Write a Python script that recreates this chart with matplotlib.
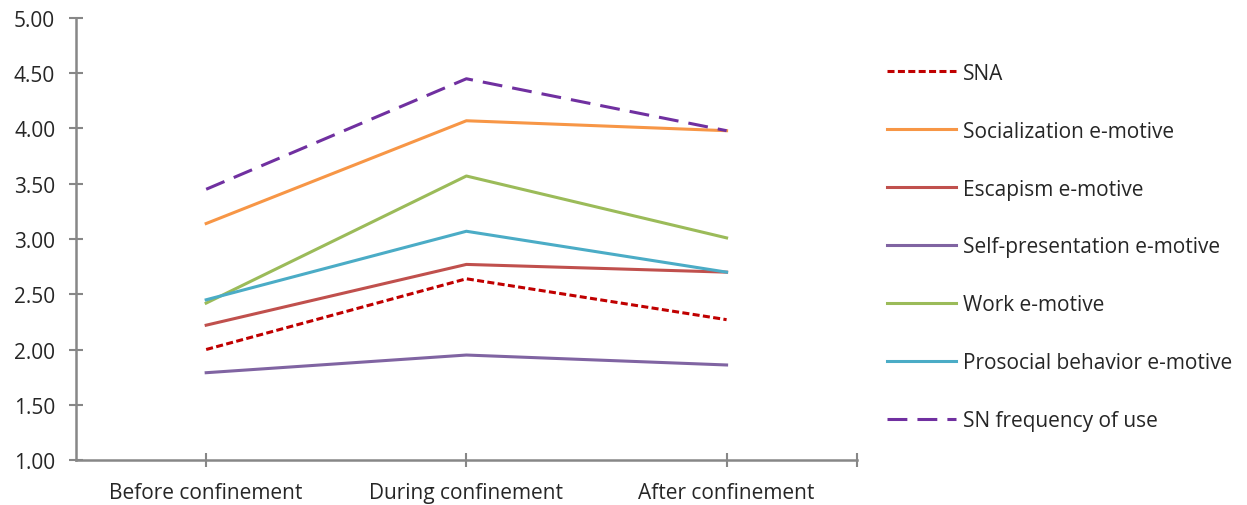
import matplotlib
matplotlib.use("Agg")
import matplotlib.pyplot as plt

# data
periods = ["Before confinement", "During confinement", "After confinement"]
sna = [2.00, 2.64, 2.27]
socialization = [3.14, 4.07, 3.98]
escapism = [2.22, 2.77, 2.70]
self_presentation = [1.79, 1.95, 1.86]
work = [2.42, 3.57, 3.01]
prosocial = [2.45, 3.07, 2.70]
sn_frequency = [3.45, 4.45, 3.98]

plt.rcParams['font.family'] = ['Open Sans', 'DejaVu Sans']

fig = plt.figure(figsize=(12.47, 5.06), dpi=100)
ax = fig.add_axes([0.061, 0.0889, 0.626, 0.8736])

x = list(range(len(periods)))
lw = 2.2
ax.plot(x, sna, color='#C00000', lw=lw, dashes=(2.3, 1.1), label='SNA')
ax.plot(x, socialization, color='#F79646', lw=lw, label='Socialization e-motive')
ax.plot(x, escapism, color='#C0504D', lw=lw, label='Escapism e-motive')
ax.plot(x, self_presentation, color='#8064A2', lw=lw, label='Self-presentation e-motive')
ax.plot(x, work, color='#9BBB59', lw=lw, label='Work e-motive')
ax.plot(x, prosocial, color='#4BACC6', lw=lw, label='Prosocial behavior e-motive')
ax.plot(x, sn_frequency, color='#7030A0', lw=lw, dashes=(6.5, 3.3), label='SN frequency of use')

ax.set_xlim(-0.5, 2.5)
ax.set_ylim(1, 5)
ax.set_yticks([1 + 0.5 * i for i in range(9)])
ax.set_yticklabels([f"{1 + 0.5 * i:.2f}" for i in range(9)])
ax.set_xticks(x + [2.5])
ax.set_xticklabels(periods + [""])

for s in ['top', 'right']:
    ax.spines[s].set_visible(False)
for s in ['left', 'bottom']:
    ax.spines[s].set_color('#878787')
    ax.spines[s].set_linewidth(1.8)
ax.tick_params(axis='both', direction='inout', length=10, width=1.5, color='#878787',
               labelsize=15, labelcolor='#262626')
ax.tick_params(axis='y', pad=10)
ax.tick_params(axis='x', pad=10.5)

fig.legend(loc='upper left', bbox_to_anchor=(0.6966, 0.911), frameon=False,
           fontsize=15, handlelength=3.3, handletextpad=0.33, labelspacing=1.77,
           labelcolor='#262626')

fig.savefig('out.png', dpi=100)
